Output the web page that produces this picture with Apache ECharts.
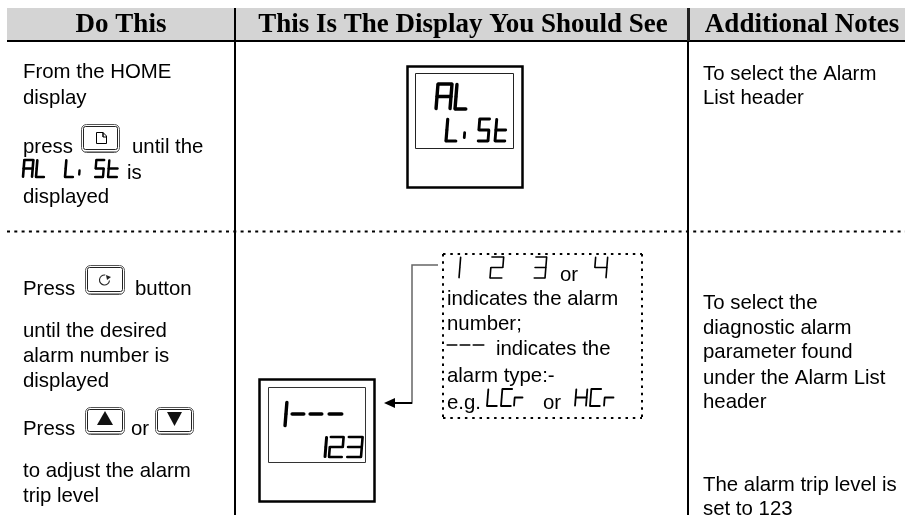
<!DOCTYPE html>
<html><head><meta charset="utf-8">
<style>html,body{margin:0;padding:0;background:#fff}#c{width:910px;height:515px}</style>
<script src="https://cdn.jsdelivr.net/npm/echarts@6/dist/echarts.min.js"></script>
</head><body><div id="c"></div>
<script>
// Content
const headers = [["Do This",121,"center"],["This Is The Display You Should See",463,"center"],["Additional Notes",802,"center"]];
const doThisText = [["From the HOME",23,71],["display",23,97],["press",23,146],["until the",132,146],["is",127,172],["displayed",23,196],
  ["Press",23,288],["button",135,288],["until the desired",23,330],["alarm number is",23,355],["displayed",23,380],["Press",23,428],["or",131,428],["to adjust the alarm",23,470],["trip level",23,495]];
const noteText = [["To select the Alarm",703,73],["List header",703,97],["To select the",703,302],["diagnostic alarm",703,327],["parameter found",703,351],["under the Alarm List",703,377],["header",703,401],["The alarm trip level is",703,484],["set to 123",703,508]];
const calloutText = [["or",560,274],["indicates the alarm",447,298],["number;",447,323],["indicates the",496,348],["alarm type:-",447,375],["e.g.",447,402],["or",543,402]];
// Seven-segment readouts: [character, x, y, width, height, stroke]
const lcdGlyphs = [
 ["A",23,160,9,17,2.6],["L",36,160,8,17,2.6],["L",65,160,8,17,2.6],["i",78,160,2,17,2.4],["S",95,160,8,17,2.4],["t",108,160,9,17,2.4],
 ["A",436,84,14,25,3.4],["L",455,84,11,25,3.4],["L",446,119,10,22,3.2],["i",463,119,2,22,2.8],["S",478,119,10,22,2.9],["t",495,119,10,22,2.9],
 ["1",280,402,5,24,3.4],["-",291,402,12,24,3.6],["-",309,402,12,24,3.6],["-",328,402,13,24,3.6],["1",322,437,3,20,3],["2",329,437,13,20,2.6],["3",347,437,14,20,2.6],
 ["1",456,257,3,21,1.6],["2",490,257,12,21,1.6],["3",534,257,11,21,1.6],["4",594,257,12,21,1.6],
 ["-",447,345,10,0,1.6],["-",460,345,10,0,1.6],["-",473,345,11,0,1.6],
 ["L",487,389,10,17,1.8],["C",501,389,10,17,1.8],["r",514,389,8,17,1.8],["H",575,389,11,17,1.8],["C",590,389,10,17,1.8],["r",604,389,9,17,1.8]];
const segmentsByChar = {A:"abcefg",L:"efd",i:"c",S:"afgcd",t:"fedg",1:"bc",2:"abged",3:"abgcd",4:"fgbc","-":"g",C:"afed",r:"eg",H:"fbecg"};

const sans='20.4px "Liberation Sans", Arial, sans-serif';
const head='bold 27px "Liberation Serif", "Times New Roman", serif';
const els=[];
const rect=(x,y,w,h,fill)=>els.push({type:'rect',shape:{x,y,width:w,height:h},style:{fill}});
const box=(x,y,w,h,lw,stroke,r)=>els.push({type:'rect',shape:{x,y,width:w,height:h,r:r||0},style:{fill:'none',stroke,lineWidth:lw}});
const line=(x1,y1,x2,y2,lw,stroke,dash)=>els.push({type:'line',shape:{x1,y1,x2,y2},style:{stroke,lineWidth:lw,lineDash:dash||null}});
const text=(t,x,y,font,align)=>els.push({type:'text',style:{text:t,x,y,font,fill:'#000',textAlign:align||'left',textVerticalAlign:'middle',align:align||'left',verticalAlign:'middle'}});

// Table frame
rect(7,8,898,32,'#d4d4d4');
rect(7,40,898,2,'#000');
rect(234,8,2,507,'#000');
rect(687,8,3,33,'#222');
rect(687,41,2,474,'#000');
line(7,231.5,905,231.5,2,'#000',[3,4.3]);

headers.forEach(h=>text(h[0],h[1],25,head,h[2]));
[...doThisText,...noteText,...calloutText].forEach(t=>text(t[0],t[1],t[2]+1,sans));

// Display units
box(407.5,66.5,115,121,2.5,'#000'); box(415.5,73.5,98,75,1,'#222');
box(259.5,379.5,115,122,2.5,'#000'); box(268.5,387.5,97,75,1,'#333');

// Callout
const dot=[2.5,4.8];
line(443,254,642,254,2,'#000',dot); line(443,418,642,418,2,'#000',dot);
line(443,254,443,418,2,'#000',dot); line(642,254,642,418,2,'#000',dot);
els.push({type:'polyline',shape:{points:[[438,265],[412,265],[412,403],[395,403]]},style:{fill:'none',stroke:'#666',lineWidth:1.5}});
line(394,403,412,403,2,'#000');
els.push({type:'polygon',shape:{points:[[384,403],[395,398],[395,408]]},style:{fill:'#000'}});

// Buttons
const btn=(x,y,w,h)=>{box(x+.5,y+.5,w,h,1,'#555',5);box(x+2.5,y+2.5,w-4,h-5,1,'#222',2);line(x+3,y+h-.5,x+w-2,y+h-.5,1,'#999');};
btn(81,124,38,28);btn(85,265,39,29);btn(85,407,39,27);btn(155,407,38,27);
els.push({type:'polyline',shape:{points:[[103,137],[103,132.5],[96.5,132.5],[96.5,143.5],[106.5,143.5],[106.5,136],[103,132.5],[103,137],[106.5,137]]},style:{fill:'none',stroke:'#000',lineWidth:1}});
els.push({type:'arc',shape:{cx:104.5,cy:280,r:5,startAngle:0.1,endAngle:Math.PI*1.55,clockwise:true},style:{fill:'none',stroke:'#222',lineWidth:1.1}});
els.push({type:'polygon',shape:{points:[[106,275],[111,277],[107,280]]},style:{fill:'#222'}});
els.push({type:'polygon',shape:{points:[[105,411],[97,425],[113,425]]},style:{fill:'#111'}});
els.push({type:'polygon',shape:{points:[[167,412],[182,412],[174.5,426]]},style:{fill:'#111'}});

// Seven-segment glyphs
function glyph(g){
  const [ch,x,y,w,h,lw]=g, sk=Math.min(h*0.08,2);
  const P=(u,v)=>[x+u*w+(1-v)*sk,y+v*h];
  const gap=.02;
  const seg={a:[[gap,0],[1-gap,0]],b:[[1,gap],[1,.5-gap]],c:[[1,.5+gap],[1,1-gap]],d:[[gap,1],[1-gap,1]],e:[[0,.5+gap],[0,1-gap]],f:[[0,gap],[0,.5-gap]],g:[[gap,.5],[1-gap,.5]]};
  if(ch==='i'){const q=[P(.5,.62),P(.5,.85)];els.push({type:'polyline',shape:{points:q},style:{fill:'none',stroke:'#000',lineWidth:lw,lineCap:'round'}});return;}
  for(const s of segmentsByChar[ch]){
    els.push({type:'polyline',shape:{points:seg[s].map(p=>P(p[0],p[1]))},style:{fill:'none',stroke:'#000',lineWidth:lw,lineCap:'round'}});
  }
}
lcdGlyphs.forEach(glyph);

const chart=echarts.init(document.getElementById('c'),null,{renderer:'canvas'});
chart.setOption({animation:false,backgroundColor:'#fff',graphic:{elements:els.map(e=>Object.assign({silent:true},e))}});
</script></body></html>
